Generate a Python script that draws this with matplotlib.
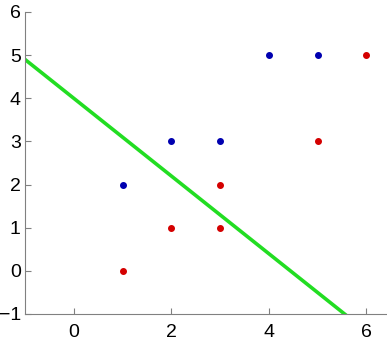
import matplotlib
matplotlib.use("Agg")
import matplotlib.pyplot as plt

# class 1 (blue) and class 2 (red) points
blue_x = [1, 2, 3, 4, 5]
blue_y = [2, 3, 3, 5, 5]
red_x = [1, 2, 3, 3, 5, 6]
red_y = [0, 1, 1, 2, 3, 5]

# separating line y = b + m*x
line_x = [-1, 7]
line_b = 4.0
line_m = -0.9

plt.rcParams['font.family'] = ['Liberation Sans', 'DejaVu Sans']

fig = plt.figure(figsize=(3.87, 3.44), dpi=100)
# axes run past the right edge, as in the cropped original
ax = fig.add_axes([25 / 387, 30 / 344, 390 / 387, 302 / 344])

line_y = [line_b + line_m * x for x in line_x]
ax.plot(line_x, line_y, color='#22dd22', lw=2.6, zorder=2)
ax.plot(blue_x, blue_y, 'o', color='#0000b0', ms=4, zorder=3)
ax.plot(red_x, red_y, 'o', color='#d40000', ms=4, zorder=3)

ax.set_xlim(-1, 7)
ax.set_ylim(-1, 6)
ax.set_xticks([0, 2, 4, 6])
ax.set_yticks(range(-1, 7))
ax.spines['top'].set_visible(False)
ax.spines['right'].set_visible(False)
for s in ('left', 'bottom'):
    ax.spines[s].set_color('#808080')
ax.tick_params(direction='in', length=4, color='#808080', labelsize=14, pad=3)
ax.tick_params(axis='x', pad=7)

fig.savefig('out.png', dpi=100)
